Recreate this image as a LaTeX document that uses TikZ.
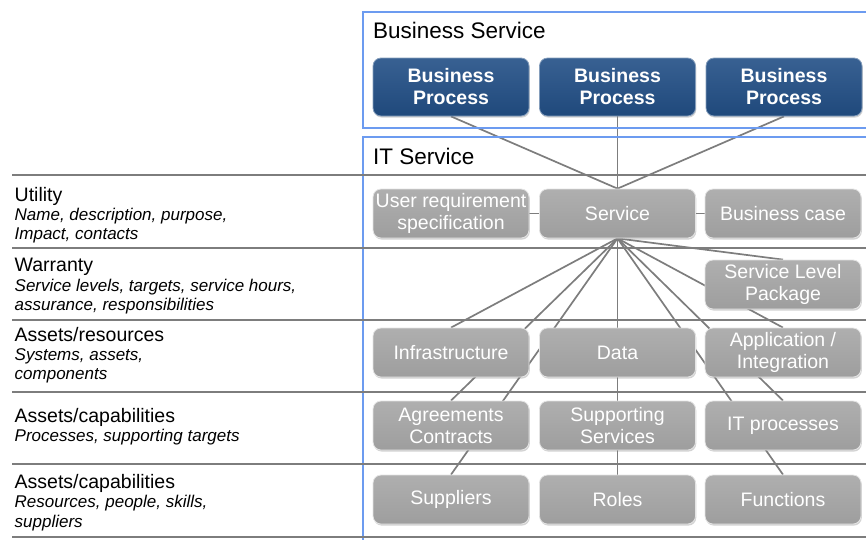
\documentclass[tikz,border=0pt]{standalone}
\usepackage{fontspec}
\setmainfont{Liberation Sans}
\usetikzlibrary{shadows}

\definecolor{framebl}{RGB}{108,155,240}
\definecolor{rulegray}{RGB}{125,125,125}
\definecolor{boxgray}{RGB}{166,166,166}
\definecolor{procblue}{RGB}{34,79,134}

\newcommand\boxfont{\fontsize{19.5}{22}\selectfont}
\newcommand\headfont{\fontsize{22.5}{25}\selectfont}
\newcommand\rowtitlefont{\fontsize{19.5}{22}\selectfont}
\newcommand\rowdescfont{\fontsize{17}{19.5}\selectfont\itshape}

\pgfdeclarelayer{back}
\pgfsetlayers{back,main}

\tikzset{
  tile/.style={rectangle, rounded corners=8pt, minimum width=156pt,
    minimum height=49pt, inner sep=0pt, align=center, text=white,
    font=\boxfont,
    drop shadow={shadow xshift=0.8pt, shadow yshift=-1.6pt, opacity=0.35}},
  graybox/.style={tile, top color=boxgray!90!white, bottom color=boxgray!95!black,
    draw=white!70!boxgray, line width=0.8pt},
  procbox/.style={tile, minimum height=58pt, top color=procblue!90!white,
    bottom color=procblue!92!black,
    draw=procblue!55!white, line width=0.8pt, font=\bfseries\boxfont},
  link/.style={draw=rulegray, line width=1.7pt},
  rowrule/.style={draw=rulegray, line width=2pt},
  frame/.style={draw=framebl, line width=1.5pt},
  header/.style={anchor=base west, inner sep=0pt, font=\headfont},
  rowtitle/.style={anchor=base west, inner sep=0pt, font=\rowtitlefont},
  rowdesc/.style={anchor=base west, inner sep=0pt, font=\rowdescfont},
}

\begin{document}
\begin{tikzpicture}[x=1pt,y=-1pt]
\useasboundingbox (0,0) rectangle (866,539);

% service frames (open to the right)
\draw[frame] (363,12) rectangle (880,128);
\draw[frame] (363,137) rectangle (880,560);

% row separators
\foreach \ry in {175,248,320,392,464,537}
  \draw[rowrule] (12,\ry) -- (866,\ry);

% frame headings
\node[header] (bshead) at (373,38.3) {Business Service};
\node[header] (ithead) at (373,164) {IT Service};

% row labels
\node[rowtitle] (utilT)  at (14.5,201) {Utility};
\node[rowdesc]  (utilA)  at (14.5,220) {Name, description, purpose,};
\node[rowdesc]  (utilB)  at (14.5,239) {Impact, contacts};

\node[rowtitle] (warrT)  at (14.5,271.5) {Warranty};
\node[rowdesc]  (warrA)  at (14.5,291) {Service levels, targets, service hours,};
\node[rowdesc]  (warrB)  at (14.5,310) {assurance, responsibilities};

\node[rowtitle] (resT)   at (14.5,341) {Assets/resources};
\node[rowdesc]  (resA)   at (14.5,360) {Systems, assets,};
\node[rowdesc]  (resB)   at (14.5,379) {components};

\node[rowtitle] (capT)   at (14.5,422) {Assets/capabilities};
\node[rowdesc]  (capA)   at (14.5,441.5) {Processes, supporting targets};

\node[rowtitle] (cap2T)  at (14.5,488) {Assets/capabilities};
\node[rowdesc]  (cap2A)  at (14.5,507.5) {Resources, people, skills,};
\node[rowdesc]  (cap2B)  at (14.5,527) {suppliers};

% business processes
\node[procbox] (bp1) at (451,87)   {Business\\Process};
\node[procbox] (bp2) at (617.5,87) {Business\\Process};
\node[procbox] (bp3) at (784,87)   {Business\\Process};

% IT service elements
\node[graybox] (urs)    at (451,213.5)   {User requirement\\specification};
\node[graybox] (svc)    at (617.5,213.5) {Service};
\node[graybox] (bcase)  at (783,213.5)   {Business case};

\node[graybox] (slp)    at (783,284.5)   {Service Level\\Package};

\node[graybox] (infra)  at (451,352.5)   {Infrastructure};
\node[graybox] (data)   at (617.5,352.5) {Data};
\node[graybox] (app)    at (783,352.5)   {Application /\\Integration};

\node[graybox] (agree)  at (451,425.5)   {Agreements\\Contracts};
\node[graybox] (supsvc) at (617.5,425.5) {Supporting\\Services};
\node[graybox] (itproc) at (783,425.5)   {IT processes};

\node[graybox] (supp)   at (451,499.5)   {Suppliers};
\node[graybox] (roles)  at (617.5,499.5) {Roles};
\node[graybox] (func)   at (783,499.5)   {Functions};

% connectors run behind the tiles
\begin{pgfonlayer}{back}
  \foreach \p in {bp1,bp2,bp3}
    \draw[link] (\p.south) -- (svc.north);
  \draw[link] (urs.east) -- (bcase.west);
  \foreach \t in {slp,infra,agree,supp,roles,func,itproc,app}
    \draw[link] (svc.south) -- (\t.north);
\end{pgfonlayer}
\end{tikzpicture}
\end{document}
